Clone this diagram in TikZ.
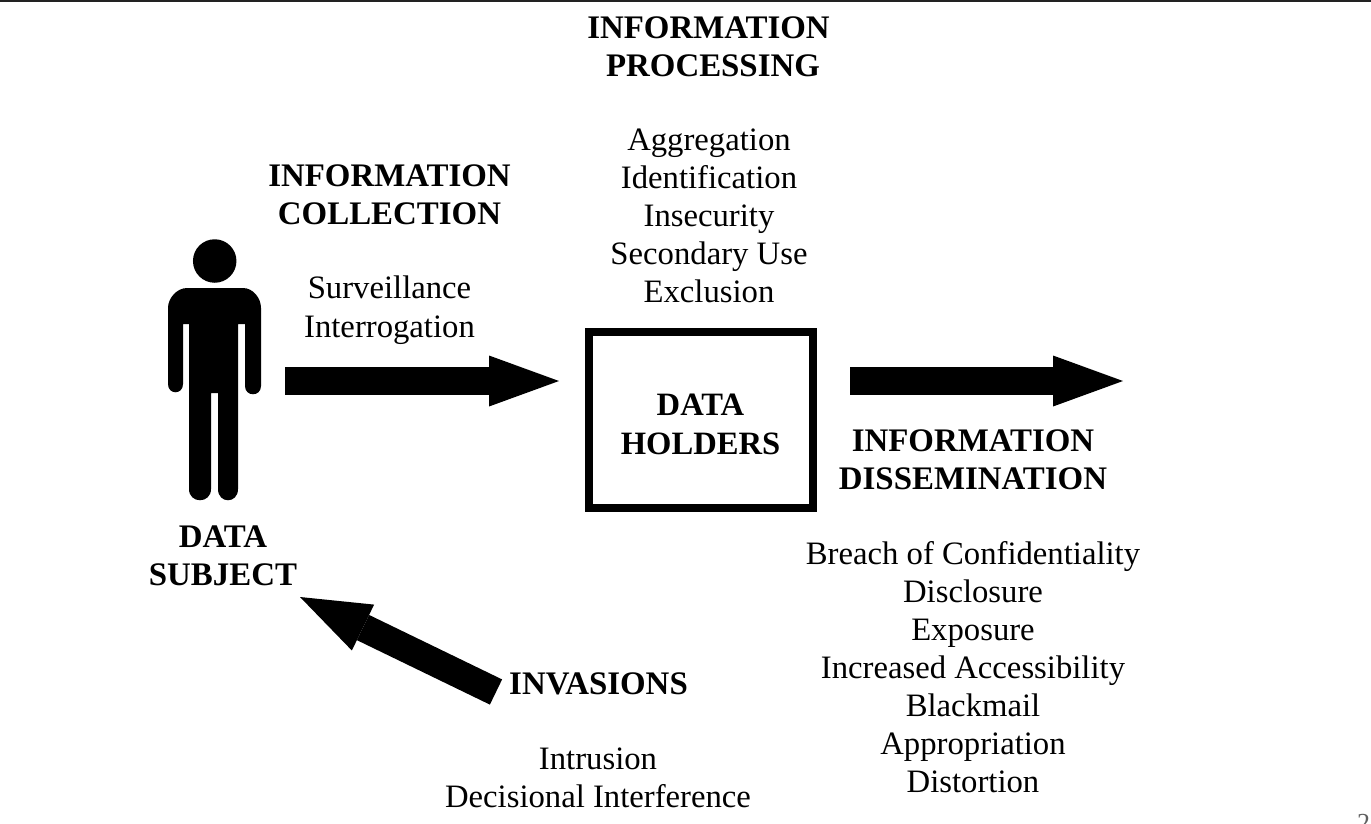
\documentclass[tikz,border=0pt]{standalone}
\usepackage{fontspec}
\setmainfont{Liberation Serif}
\usetikzlibrary{
    arrows.meta,
    positioning
}
\definecolor{barblack}{RGB}{34,34,34}
\definecolor{pagegray}{RGB}{95,95,95}
\tikzset{
    % Text styles
    head text/.style={
        align=center,
        inner sep=0pt,
        font=\fontsize{32.9}{37.6}\selectfont\bfseries
    },
    list text/.style={
        align=center,
        inner sep=0pt,
        font=\fontsize{32.7}{38}\selectfont
    },
    % Box styles
    holder box/.style={
        draw=black,
        line width=8pt,
        fill=white,
        minimum width=224pt,
        minimum height=176pt,
        align=center,
        inner sep=0pt
    },
    % Arrow styles
    block arrow/.style={
        -{Triangle[length=70pt,width=51pt,line width=0pt]},
        line width=28pt,
        black
    }
}
\begin{document}
\begin{tikzpicture}[x=1pt,y=-1pt]
    \useasboundingbox (0,0) rectangle (1371,823);
    \fill[barblack] (0,0) rectangle (1371,2);

    % Person
    \node[circle, fill=black, inner sep=0pt, minimum size=43.5pt] (head) at (214.7,261) {};
    \fill[black] (187,288) -- (243,288) .. controls (253,288) and (261,298) .. (261,308)
        -- (261,386) .. controls (261,397) and (245,397) .. (245,386)
        -- (245,324) -- (238,324) -- (238,489)
        .. controls (238,504) and (218,504) .. (218,489)
        -- (218,393) -- (211,393) -- (211,489)
        .. controls (211,504) and (189,504) .. (189,489)
        -- (189,324) -- (183,324) -- (183,384)
        .. controls (183,395) and (168,395) .. (168,384)
        -- (168,308) .. controls (168,298) and (177,288) .. (187,288) -- cycle;

    % Centre box
    \node[holder box] (holders) at (701,420) {};
    \node[head text, font=\fontsize{32.6}{39.5}\selectfont\bfseries] (holderstext) at (700.5,424.5) {DATA\\HOLDERS};

    % Headings
    \node[head text] (processing) at (708.5,46.5) {INFORMATION\\\hspace*{9pt}PROCESSING};
    \node[head text] (collection) at (389.5,194.5) {INFORMATION\\COLLECTION};
    \node[head text] (dissemination) at (973,460) {INFORMATION\\DISSEMINATION};
    \node[head text] (subject) at (223,555.5) {DATA\\SUBJECT};
    \node[head text] (invasions) at (598.5,683.5) {INVASIONS};

    % Lists
    \node[list text] (processlist) at (709,216) {Aggregation\\Identification\\Insecurity\\Secondary Use\\Exclusion};
    \node[list text] (collectlist) at (389.5,310.5) {Surveillance\\[1pt]Interrogation};
    \node[list text] (disselist) at (973,667) {Breach of Confidentiality\\Disclosure\\Exposure\\Increased Accessibility\\Blackmail\\Appropriation\\Distortion};
    \node[list text] (invadelist) at (598,778) {Intrusion\\Decisional Interference};
    \node[font=\fontsize{26}{30}\selectfont, text=pagegray, anchor=base west, inner sep=0pt] (pagenum) at (1357,831) {24};

    % Arrow ends
    \coordinate (collect tail) at (285,381);
    \coordinate (collect tip) at (559,381);
    \coordinate (disse tail) at (850,381);
    \coordinate (disse tip) at (1123,381);
    \coordinate (invade tail) at (496,692);
    \coordinate (invade tip) at (300,597);

    % Connections
    \draw[block arrow] (collect tail) -- (collect tip);
    \draw[block arrow] (disse tail) -- (disse tip);
    \draw[block arrow] (invade tail) -- (invade tip);
\end{tikzpicture}
\end{document}
